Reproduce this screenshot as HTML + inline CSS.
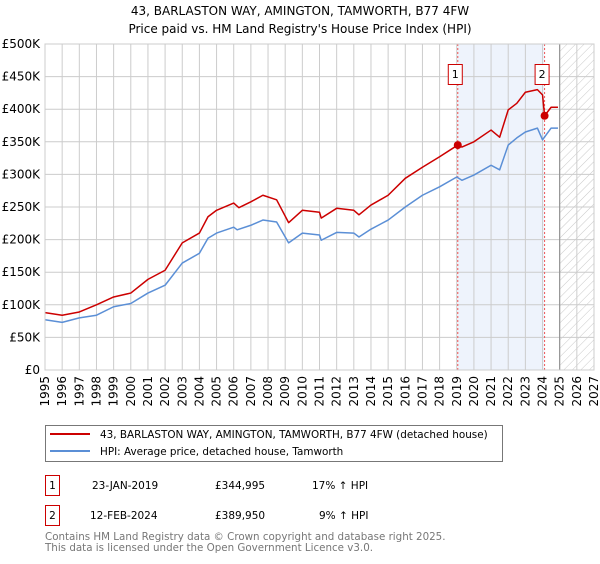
<!DOCTYPE html>
<html><head><meta charset="utf-8"><style>
body{margin:0;background:#fff;width:600px;height:560px;overflow:hidden;font-family:"DejaVu Sans","Liberation Sans",sans-serif;}
svg text{font-family:"DejaVu Sans","Liberation Sans",sans-serif;}
</style></head><body>
<svg id="c" width="600" height="560">
<defs><pattern id="hatch" width="6" height="6" patternUnits="userSpaceOnUse" patternTransform="rotate(45)"><line x1="0" y1="0" x2="0" y2="6" stroke="#bbb" stroke-width="0.8"/></pattern></defs>
<text x="300" y="15" text-anchor="middle" font-size="12">43, BARLASTON WAY, AMINGTON, TAMWORTH, B77 4FW</text>
<text x="300" y="33" text-anchor="middle" font-size="12">Price paid vs. HM Land Registry's House Price Index (HPI)</text>
<g id="plot"></g>
<g>
<rect x="45.5" y="425.5" width="457" height="36" fill="#fff" stroke="#777"/>
<line x1="50" y1="434" x2="90" y2="434" stroke="#cc0000" stroke-width="2"/>
<text x="100" y="438" font-size="10.4">43, BARLASTON WAY, AMINGTON, TAMWORTH, B77 4FW (detached house)</text>
<line x1="50" y1="451" x2="90" y2="451" stroke="#5b8fd6" stroke-width="2"/>
<text x="100" y="455" font-size="10.4">HPI: Average price, detached house, Tamworth</text>
</g>
<g font-size="10.5">
<rect x="45.5" y="475.5" width="14" height="20" fill="#fff" stroke="#cc0000"/><text x="52.5" y="489" text-anchor="middle">1</text>
<text x="92" y="489">23-JAN-2019</text><text x="215" y="489">£344,995</text><text x="312" y="489">17% ↑ HPI</text>
<rect x="45.5" y="505.5" width="14" height="20" fill="#fff" stroke="#cc0000"/><text x="52.5" y="519" text-anchor="middle">2</text>
<text x="90" y="519">12-FEB-2024</text><text x="215" y="519">£389,950</text><text x="319" y="519">9% ↑ HPI</text>
</g>
<text x="45" y="540" font-size="10.3" fill="#777">Contains HM Land Registry data © Crown copyright and database right 2025.</text>
<text x="45" y="551" font-size="10.3" fill="#777">This data is licensed under the Open Government Licence v3.0.</text>
</svg>
<script>
const hpiYears=[1995,1996,1997,1998,1999,2000,2001,2002,2003,2004,2004.5,2005,2006,2006.2,2007,2007.7,2008.5,2009.2,2010,2011,2011.1,2012,2013,2013.3,2014,2015,2016,2017,2018,2019,2019.3,2020,2021,2021.5,2022,2022.5,2023,2023.7,2024,2024.5,2024.9];
const hpiValues=[77,73,80,84,97,102,118,130,164,179,202,210,219,215,222,230,227,195,210,207,199,211,210,204,216,230,250,268,281,296,291,299,314,307,345,356,365,371,353,371,371];
const redYears=[1995,1996,1997,1998,1999,2000,2001,2002,2003,2004,2004.5,2005,2006,2006.3,2007,2007.7,2008.5,2009.2,2010,2011,2011.1,2012,2013,2013.3,2014,2015,2016,2017,2018,2019.06,2019.3,2020,2021,2021.5,2022,2022.5,2023,2023.7,2024.0,2024.12,2024.5,2024.9];
const redValues=[88,84,89,100,112,118,139,153,195,210,235,245,256,249,258,268,261,226,245,242,233,248,245,238,253,268,294,311,327,345,342,350,368,357,399,409,426,430,422,389.95,403,403];
const saleYears=[2019.06,2024.12];
const saleValues=[344.995,389.95];
const saleLabels=["1","2"];
const yTicks=[0,50,100,150,200,250,300,350,400,450,500];
const yTickLabels=["£0","£50K","£100K","£150K","£200K","£250K","£300K","£350K","£400K","£450K","£500K"];
const xTicks=[1995,1996,1997,1998,1999,2000,2001,2002,2003,2004,2005,2006,2007,2008,2009,2010,2011,2012,2013,2014,2015,2016,2017,2018,2019,2020,2021,2022,2023,2024,2025,2026,2027];

const L=45,R=594,T=44,B=370;
const X=y=>L+(y-1995)/(2027-1995)*(R-L);
const Y=v=>B-v/500*(B-T);
const g=document.getElementById('plot');
const NS='http://www.w3.org/2000/svg';
function mk(t,a){const e=document.createElementNS(NS,t);for(const k in a)e.setAttribute(k,a[k]);g.appendChild(e);return e;}
let e;
e=mk('rect',{x:X(saleYears[0]),y:T,width:X(saleYears[1])-X(saleYears[0]),height:B-T,fill:'#eef3fc'});


e=mk('rect',{x:X(2025),y:T,width:R-X(2025),height:B-T,fill:'url(#hatch)'});


yTicks.forEach((v,i)=>{
 e=mk('line',{x1:L,x2:R,y1:Y(v),y2:Y(v),stroke:'#ccc','stroke-width':1});
 
 
 e=mk('text',{x:L-5,y:Y(v)+4,'text-anchor':'end','font-size':12});
 e.textContent=yTickLabels[i];
 
 
});
xTicks.forEach(v=>{
 e=mk('line',{x1:X(v),x2:X(v),y1:T,y2:B,stroke:'#ccc','stroke-width':1});
 
 
 e=mk('text',{x:0,y:0,'text-anchor':'end','font-size':12,transform:`translate(${X(v)+4},${B+6}) rotate(-90)`});
 e.textContent=v;
 
 
});
e=mk('line',{x1:X(2025),x2:X(2025),y1:T,y2:B,stroke:'#888','stroke-width':1});


saleYears.forEach((s,i)=>{
 e=mk('line',{x1:X(s),x2:X(s),y1:T,y2:B,stroke:'#e55','stroke-width':1,'stroke-dasharray':'2,2'});
 
 
});
function line(xs,vs,c,name){
 e=mk('polyline',{points:xs.map((x,i)=>X(x)+','+Y(vs[i])).join(' '),fill:'none',stroke:c,'stroke-width':1.5,'stroke-linejoin':'round'});
 
 
}
line(hpiYears,hpiValues,'#5b8fd6','hpi-line');
line(redYears,redValues,'#cc0000','property-price-line');
saleYears.forEach((s,i)=>{
 e=mk('circle',{cx:X(s),cy:Y(saleValues[i]),r:4,fill:'#cc0000'});
 
 
 e=mk('rect',{x:X(s)-9.5,y:64.5,width:14,height:20,fill:'#fff',stroke:'#cc0000'});
 
 
 e=mk('text',{x:X(s)-2.5,y:78,'text-anchor':'middle','font-size':11});
 e.textContent=saleLabels[i];
 
 
});
e=mk('rect',{x:L,y:T,width:R-L,height:B-T,fill:'none',stroke:'#ccc'});


</script>
</body></html>
